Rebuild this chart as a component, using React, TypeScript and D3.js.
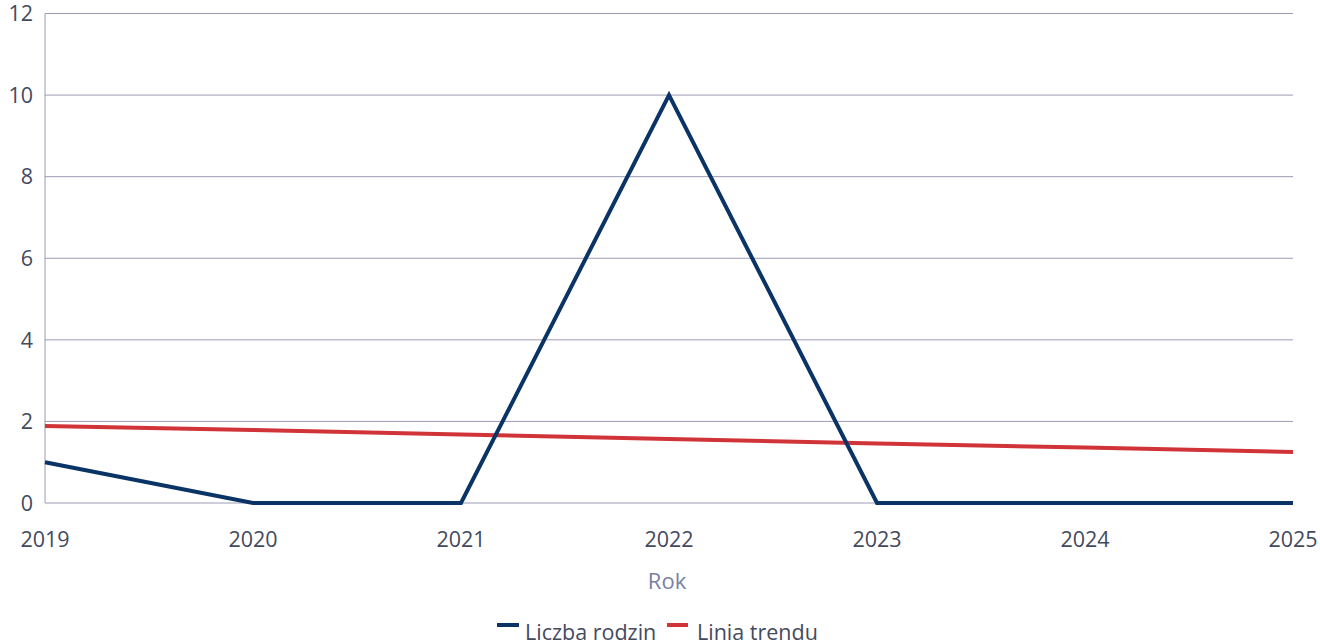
import React from "react";
import * as d3 from "d3";

const years = ["2019", "2020", "2021", "2022", "2023", "2024", "2025"];
const families = [1, 0, 0, 10, 0, 0, 0];
const trend = [1.89, 1.79, 1.68, 1.57, 1.46, 1.36, 1.25];
const yTicks = [0, 2, 4, 6, 8, 10, 12];

const W = 1320;
const H = 642;
const left = 45;
const right = 1293;
const top = 13.5;
const bottom = 503;

export default function App() {
  const x = d3.scalePoint<string>().domain(years).range([left, right]);
  const y = d3.scaleLinear().domain([0, 12]).range([bottom, top]);
  const line = d3
    .line<number>()
    .x((_, i) => x(years[i]) as number)
    .y((d) => y(d));
  const font = "'Open Sans', 'Noto Sans', sans-serif";
  return (
    <svg
      width={W}
      height={H}
      style={{ position: "absolute", left: 0, top: 0, fontFamily: font }}
    >
      {yTicks.map((t) => (
        <g key={t}>
          <line x1={left} x2={right} y1={y(t)} y2={y(t)} stroke="#9c9cb4" strokeWidth={1} />
          <text x={33} y={y(t)} dy="0.36em" textAnchor="end" fontSize={21.5} fill="#444a5e">
            {t}
          </text>
        </g>
      ))}
      <line x1={left} x2={left} y1={top} y2={bottom} stroke="#9c9cb4" strokeWidth={1} />
      {years.map((yr) => (
        <text key={yr} x={x(yr)} y={547} textAnchor="middle" fontSize={21.5} fill="#444a5e">
          {yr}
        </text>
      ))}
      <text x={667} y={589} textAnchor="middle" fontSize={22} fill="#7a7fa3">
        Rok
      </text>
      <path d={line(trend) || ""} fill="none" stroke="#d03438" strokeWidth={4} />
      <path d={line(families) || ""} fill="none" stroke="#0a3366" strokeWidth={4} strokeLinejoin="miter" />
      <g>
        <rect x={497} y={623} width={22} height={4} fill="#0a3366" />
        <text x={525} y={640} fontSize={21.5} fill="#444a5e">Liczba rodzin</text>
        <rect x={667} y={623} width={21} height={4} fill="#d03438" />
        <text x={697} y={640} fontSize={21.5} fill="#444a5e">Linia trendu</text>
      </g>
    </svg>
  );
}
